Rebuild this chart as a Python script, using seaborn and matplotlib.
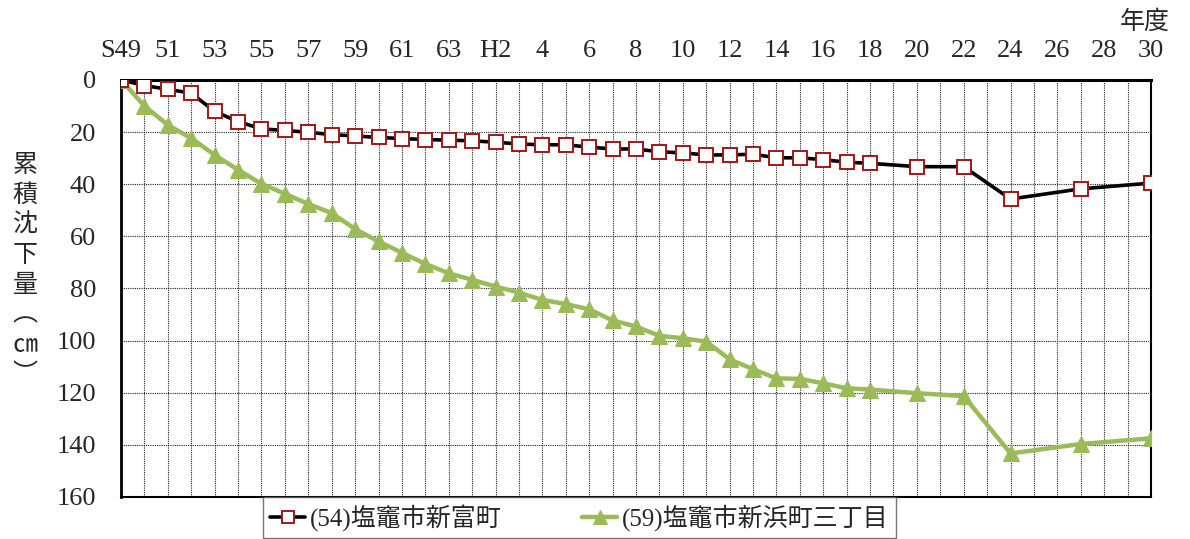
import pandas as pd
import seaborn as sns
import matplotlib.pyplot as plt

# fiscal years (western calendar) for each series
years_a = list(range(1974, 2007)) + [2008, 2010, 2012, 2015, 2018]
years_b = list(range(1974, 2007)) + [2008, 2010, 2012, 2015, 2018]

# (54) 塩竈市新富町 cumulative subsidence (cm)
sub_a = [0, 2.2, 3.6, 5.1, 12.1, 16.0, 18.8, 19.4, 20.1, 21.0, 21.5, 22.1, 22.5, 22.9, 23.1, 23.4,
         23.9, 24.6, 24.9, 24.9, 25.8, 26.5, 26.5, 27.6, 28.0, 28.8, 28.8, 28.5, 29.9, 29.9, 30.6, 31.6, 32.0,
         33.3, 33.3, 45.7, 41.8, 39.6]
# (59) 塩竈市新浜町三丁目 cumulative subsidence (cm)
sub_b = [0, 10.0, 17.3, 22.4, 28.8, 34.5, 39.9, 43.7, 47.6, 51.1, 57.2, 62.0, 66.3, 70.6, 74.2, 76.7,
         79.3, 81.6, 84.4, 86.0, 88.0, 92.3, 94.6, 98.2, 99.1, 100.4, 107.2, 111.0, 114.5, 114.7, 116.4, 118.3, 118.8,
         120.2, 121.3, 143.3, 139.7, 137.5]

name_a = "(54)塩竈市新富町"
name_b = "(59)塩竈市新浜町三丁目"

tick_years = list(range(1974, 2019, 2))
tick_labels = ["S49", "51", "53", "55", "57", "59", "61", "63", "H2", "4", "6", "8", "10",
               "12", "14", "16", "18", "20", "22", "24", "26", "28", "30"]

sns.set_style("white")
plt.rcParams['font.family'] = ['Liberation Serif', 'Noto Sans CJK JP', 'DejaVu Sans']

df_a = pd.DataFrame({'year': years_a, 'cm': sub_a})
df_b = pd.DataFrame({'year': years_b, 'cm': sub_b})

fig = plt.figure(figsize=(11.9, 5.39), dpi=100)
ax = fig.add_axes([0.1017, 0.078, 0.8655, 0.7738])

sns.lineplot(data=df_a, x='year', y='cm', ax=ax, color='black', linewidth=2.6,
             marker='s', markersize=9.5, markerfacecolor='white', markeredgecolor='#A01818',
             markeredgewidth=1.4, label=name_a, zorder=4)
sns.lineplot(data=df_b, x='year', y='cm', ax=ax, color='#9BBB59', linewidth=3.2,
             marker='^', markersize=12, markerfacecolor='#9BBB59', markeredgecolor='#9BBB59',
             label=name_b, zorder=3)

ax.set_xlim(1974, 2018)
ax.set_ylim(160, 0)
ax.set_yticks(range(0, 161, 20))
ax.set_xticks([y for y in range(1974, 2019) if y not in tick_years], minor=True)
ax.set_xticks(tick_years)
ax.set_xticklabels(tick_labels)
ax.xaxis.tick_top()
ax.tick_params(axis='x', which='both', length=0, pad=13, labelsize=19)
ax.tick_params(axis='y', length=0, pad=18, labelsize=19)
ax.grid(True, which='both', axis='x', color='#222222', linestyle=(0, (1, 1)), linewidth=0.8)
ax.grid(True, which='major', axis='y', color='#222222', linestyle=(0, (1, 1)), linewidth=0.8)
ax.set_axisbelow(True)

for side, lw in [('top', 2.2), ('left', 2.0), ('bottom', 1.5), ('right', 1.5)]:
    ax.spines[side].set_visible(True)
    ax.spines[side].set_color('black')
    ax.spines[side].set_linewidth(lw)

ax.set_xlabel("")
ax.set_ylabel("")
fig.text(0.021, 0.5, "累\n積\n沈\n下\n量\n︵\n㎝\n︶", ha='center', va='center',
         fontsize=18, linespacing=1.2, family=['Noto Sans CJK JP', 'DejaVu Sans'])
fig.text(0.962, 0.96, "年度", ha='center', va='center', fontsize=18,
         family=['Noto Sans CJK JP', 'DejaVu Sans'])

ax.legend_.remove()
handles, labels = ax.get_legend_handles_labels()
leg = fig.legend(handles, labels, loc='upper center', bbox_to_anchor=(0.487, 0.088), ncol=2,
                 frameon=True, fancybox=False, edgecolor='#555555',
                 handlelength=1.4, handletextpad=0.2, columnspacing=3.2, borderpad=0.3,
                 borderaxespad=0.2, markerscale=0.85,
                 prop={'family': ['Liberation Serif', 'Noto Sans CJK JP'], 'size': 18})
leg.get_frame().set_linewidth(1.0)

plt.savefig("out.png", dpi=100)
